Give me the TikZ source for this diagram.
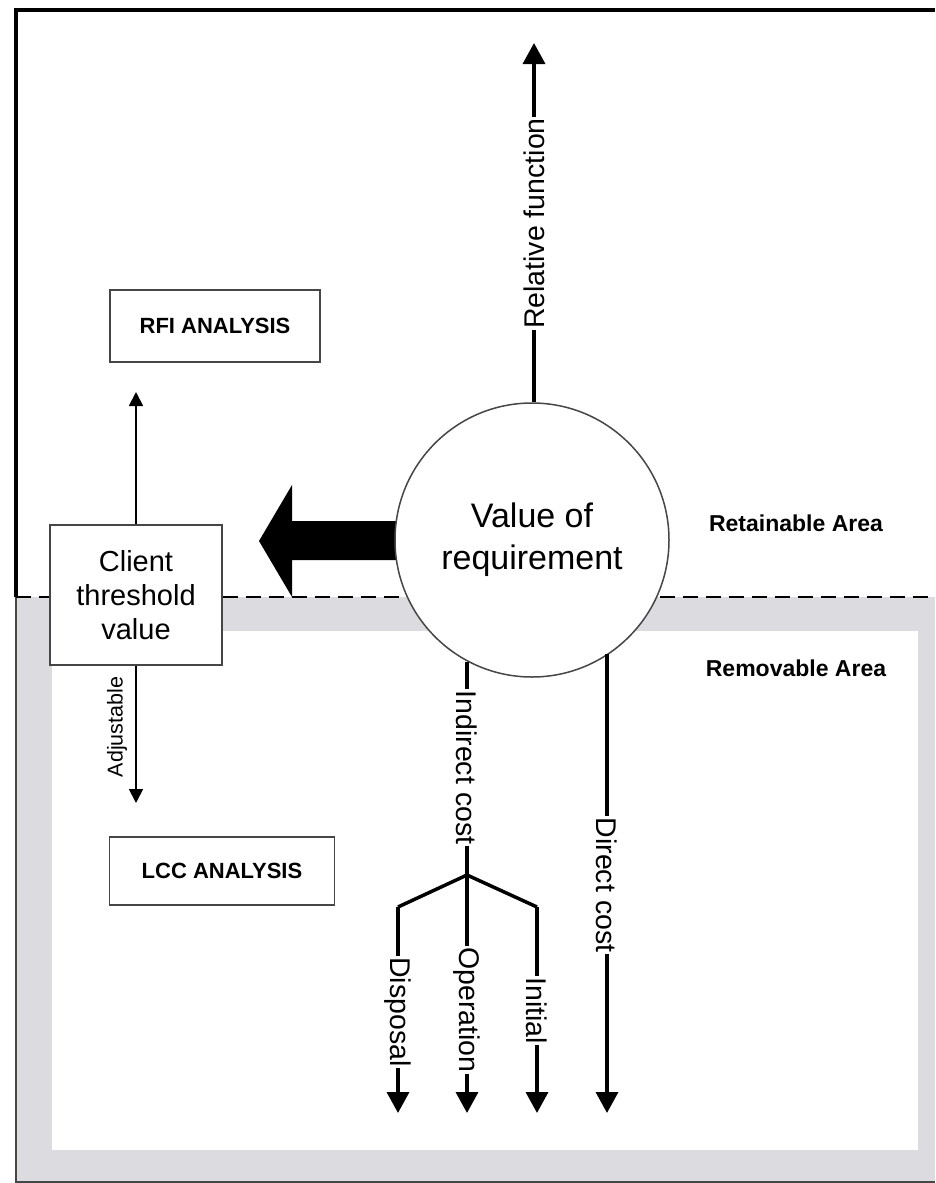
\documentclass[tikz,border=0pt]{standalone}
\usepackage{fontspec}
\setmainfont{Liberation Sans}
\usetikzlibrary{arrows.meta}
\definecolor{bandgray}{RGB}{220,219,223}
\definecolor{edgegray}{RGB}{70,70,70}
\tikzset{
  thickline/.style={line width=3.5pt, line cap=butt},
  bigtip/.style={-{Triangle[length=21pt,width=22pt]}},
  thinline/.style={line width=1.8pt},
  smalltip/.style={-{Triangle[length=14pt,width=14pt]}},
  boxnode/.style={draw=edgegray, line width=1.6pt, fill=white, align=center, inner sep=0pt},
  lbl/.style={fill=white, inner xsep=1.5pt, inner ysep=1pt, font=\fontsize{28.5}{30}\selectfont},
  arealbl/.style={font=\bfseries\fontsize{23}{26}\selectfont},
}
\begin{document}
\begin{tikzpicture}[x=1pt,y=-1pt]
\useasboundingbox (0,0) rectangle (935,1183);
% removable area band
\fill[bandgray] (16,597) rectangle (935,1183);
\fill[white] (52,631) rectangle (918,1150);
% borders
\draw[edgegray, line width=1.5pt] (16,597) -- (16,1182) -- (935,1182);
\draw[line width=3.5pt] (935,10) -- (16,10) -- (16,597);
% dashed separation
\draw[line width=2pt, dash pattern=on 15pt off 8pt] (16,597) -- (935,597);

% analysis boxes
\node[boxnode, minimum width=210pt, minimum height=72pt, font=\bfseries\fontsize{22}{24}\selectfont] (rfi) at (215,326) {RFI ANALYSIS};
\node[boxnode, minimum width=225pt, minimum height=68pt, font=\bfseries\fontsize{22}{24}\selectfont] (lcc) at (222,871) {LCC ANALYSIS};

% client threshold
\node[boxnode, minimum width=172pt, minimum height=140pt, font=\fontsize{29}{34}\selectfont] (client) at (136,595) {Client\\threshold\\value};
\coordinate (cup) at (136,392);
\coordinate (cdown) at (136,803);
\draw[thinline, smalltip] (client.north) -- (cup);
\draw[thinline, smalltip] (client.south) -- (cdown);
\node[rotate=90, font=\fontsize{21.5}{23}\selectfont, inner sep=1pt] (adj) at (117,727) {Adjustable};

% big arrow
\fill (420,521) -- (292,521) -- (292,485) -- (259,541) -- (292,597) -- (292,560) -- (420,560) -- cycle;

% value circle
\node[circle, draw=edgegray, line width=1.5pt, fill=white, minimum size=274pt, inner sep=0pt, align=center, font=\fontsize{34}{42}\selectfont] (val) at (532,540) {Value of\\requirement};

% relative function
\coordinate (rftip) at (534,43);
\draw[thickline, bigtip] (val.north -| rftip) -- (rftip);
\node[lbl, rotate=90] (rf) at (534,223.5) {Relative function};

% indirect cost tree
\coordinate (br) at (467,875);
\coordinate (dleft) at (398,907);
\coordinate (dright) at (537,907);
\coordinate (tdisp) at (398,1113);
\coordinate (toper) at (467,1113);
\coordinate (tinit) at (537,1113);
\coordinate (tdir) at (607,1113);
\draw[thickline] (val.-118.3 -| br) -- (br);
\draw[thickline, line join=miter] (br) -- (dleft);
\draw[thickline, line join=miter] (br) -- (dright);
\draw[thickline, bigtip] (dleft) -- (tdisp);
\draw[thickline, bigtip] (br) -- (toper);
\draw[thickline, bigtip] (dright) -- (tinit);
\draw[thickline, bigtip] (val.-56.8 -| tdir) -- (tdir);

\node[lbl, rotate=-90] (ind) at (467,767.5) {Indirect cost};
\node[lbl, rotate=-90] (dir) at (607,885) {Direct cost};
\node[lbl, rotate=-90] (disp) at (398,1012) {Disposal};
\node[lbl, rotate=-90] (oper) at (467,1010) {Operation};
\node[lbl, rotate=-90] (init) at (537,1010.5) {Initial};

% area labels
\node[arealbl] (ret) at (796,523) {Retainable Area};
\node[arealbl] (rem) at (796,668) {Removable Area};
\end{tikzpicture}
\end{document}
